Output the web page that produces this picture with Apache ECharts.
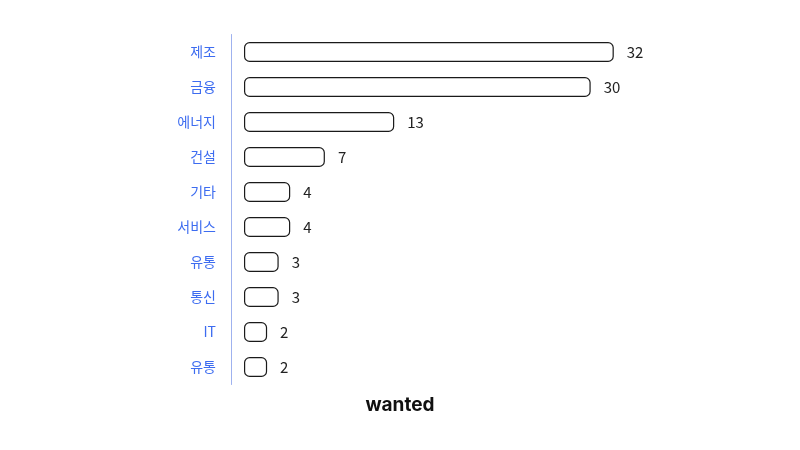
<!DOCTYPE html>
<html><head><meta charset="utf-8">
<script src="https://cdn.jsdelivr.net/npm/echarts@6/dist/echarts.min.js"></script>
<style>html,body{margin:0;padding:0;background:#fff}#c{width:800px;height:450px}</style>
</head><body><div id="c"></div>
<script>
const categories = ['제조','금융','에너지','건설','기타','서비스','유통','통신','IT','유통'];
const values = [32,30,13,7,4,4,3,3,2,2];
const chart = echarts.init(document.getElementById('c'));
chart.setOption({
  backgroundColor:'#fff',
  animation:false,
  grid:{left:244, top:34.5, height:350, width:416},
  xAxis:{type:'value', min:0, max:36, show:false},
  yAxis:{type:'category', inverse:true, data:categories, offset:13,
    axisLine:{show:true, onZero:false, lineStyle:{color:'#9fb2ef', width:1}},
    axisTick:{show:false},
    axisLabel:{color:'#3d6cf0', fontSize:14, margin:15, fontFamily:'Noto Sans CJK KR'}},
  series:[{type:'bar', data:values, barWidth:20,
    itemStyle:{color:'#fff', borderColor:'#1a1a1a', borderWidth:1.2, borderRadius:5},
    label:{show:true, position:'right', distance:13, color:'#222', fontSize:15, fontFamily:'Noto Sans CJK KR'}}],
  graphic:[{type:'text', left:'center', top:396, style:{text:'wanted', fontSize:19, fontWeight:'bold', fill:'#111', fontFamily:'Inter'}}]
});
</script></body></html>
